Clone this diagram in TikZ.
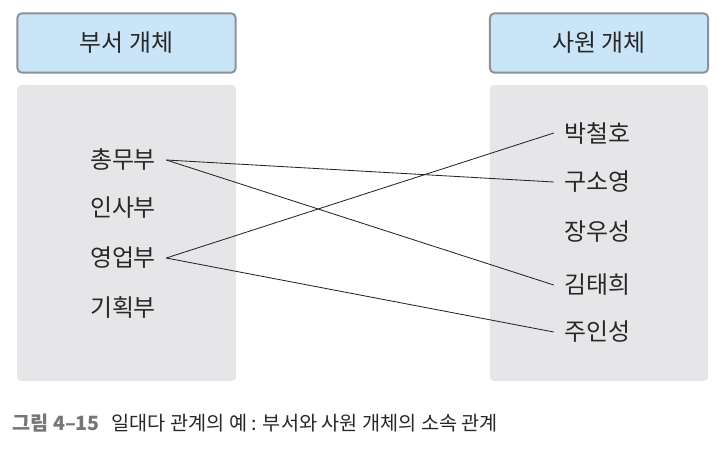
\documentclass[tikz,border=0pt]{standalone}
\usepackage{fontspec}
\setmainfont{Noto Sans CJK KR}
\definecolor{headblue}{RGB}{202,229,247}
\definecolor{headline}{RGB}{140,146,152}
\definecolor{panelgray}{RGB}{230,230,232}
\definecolor{captiongray}{RGB}{118,118,118}
\definecolor{textdark}{RGB}{40,40,40}
\tikzset{
  header/.style={draw=headline, line width=1.4pt, fill=headblue, rounded corners=3pt,
    minimum width=5.45cm, minimum height=1.48cm, inner sep=0pt,
    font=\fontsize{17}{20}\selectfont, text=textdark},
  item/.style={font=\fontsize{17}{20}\selectfont, text=textdark, inner xsep=0.25cm, inner ysep=2pt},
  link/.style={line width=0.6pt, black!85}
}
\begin{document}
\begin{tikzpicture}[x=0.025cm, y=-0.025cm]
  \useasboundingbox (0,0) rectangle (718,454);
  % Entity panels
  \fill[panelgray, rounded corners=3pt] (17,85) rectangle (236,381);
  \fill[panelgray, rounded corners=3pt] (490,85) rectangle (708,381);
  % Headers
  \node[header] (dept) at (126.5,43) {부서 개체};
  \node[header] (emp) at (599,43) {사원 개체};
  % Departments
  \node[item] (chongmu) at (123,160) {총무부};
  \node[item] (insa) at (123,208) {인사부};
  \node[item] (yeongeop) at (123,258) {영업부};
  \node[item] (gihoek) at (123,307) {기획부};
  % Employees
  \node[item] (park) at (597,133) {박철호};
  \node[item] (gu) at (597,182) {구소영};
  \node[item] (jang) at (597,232) {장우성};
  \node[item] (kim) at (597,285) {김태희};
  \node[item] (ju) at (597,332) {주인성};
  % One-to-many links
  \draw[link] (chongmu.east) -- (gu.west);
  \draw[link] (chongmu.east) -- (kim.west);
  \draw[link] (yeongeop.east) -- (park.west);
  \draw[link] (yeongeop.east) -- (ju.west);
  % Caption
  \node[anchor=west, inner sep=0pt, font=\fontsize{14}{17}\selectfont, text=textdark] (caption) at (12,423)
    {{\color{captiongray}\bfseries 그림 4–15}\hspace{0.6em}일대다 관계의 예 : 부서와 사원 개체의 소속 관계};
\end{tikzpicture}
\end{document}
